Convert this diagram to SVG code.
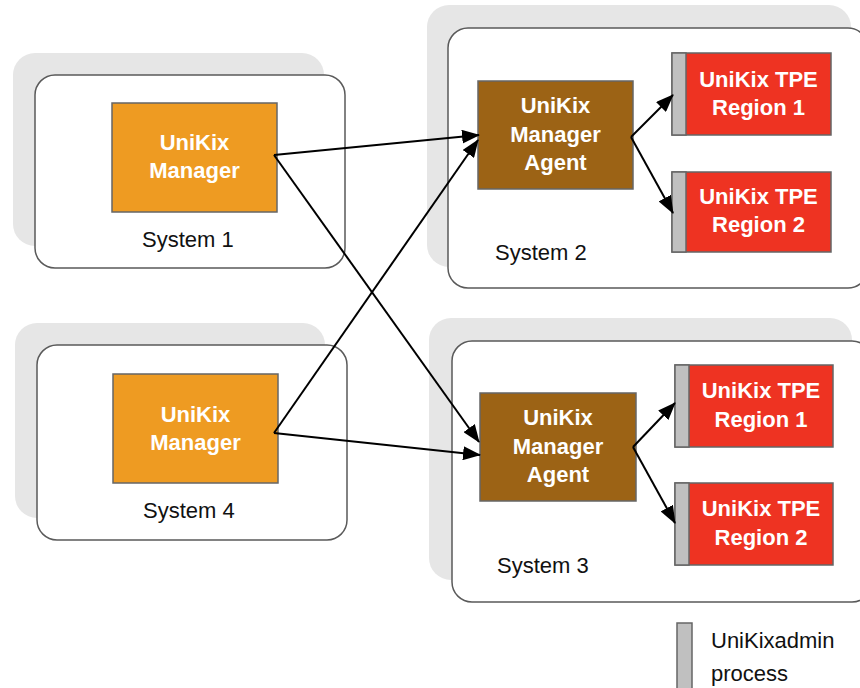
<svg xmlns="http://www.w3.org/2000/svg" width="860" height="688" viewBox="0 0 860 688">
<style>
.shadow{fill:#e6e6e6;stroke:none}
.sys{fill:#fff;stroke:#5a5a5a;stroke-width:1.5}
.mgr{fill:#ee9b22;stroke:#666;stroke-width:1.5}
.agent{fill:#9c6315;stroke:#666;stroke-width:1.5}
.reg{fill:#ee3322;stroke:#666;stroke-width:1.5}
.adm{fill:#c0c0c0;stroke:#666;stroke-width:1.5}
.wt{font-family:"Liberation Sans",Arial,sans-serif;font-weight:bold;font-size:22px;fill:#fff;text-anchor:middle}
.lbl{font-family:"Liberation Sans",Arial,sans-serif;font-size:22px;fill:#111}
.conn line{stroke:#000;stroke-width:2;marker-end:url(#ah)}
</style>
<defs>
<marker id="ah" markerUnits="userSpaceOnUse" markerWidth="18" markerHeight="14" viewBox="0 0 18 14" refX="17" refY="7" orient="auto">
<path d="M0,0 L18,7 L0,14 Z" fill="#000"/>
</marker>
</defs>
<rect class="shadow" x="13" y="53" width="311" height="193" rx="22"/>
<rect class="shadow" x="427" y="5" width="424" height="262" rx="22"/>
<rect class="shadow" x="429" y="318" width="423" height="262" rx="22"/>
<rect class="shadow" x="15" y="323" width="310" height="195" rx="22"/>
<g id="system1">
<rect class="sys" x="35" y="75" width="310" height="193" rx="20"/>
<text class="lbl" x="142" y="247">System 1</text>
</g>
<g id="manager1">
<rect class="mgr" x="112" y="103" width="165" height="109"/>
<text class="wt" x="194.5" y="150">UniKix</text>
<text class="wt" x="194.5" y="178">Manager</text>
</g>
<g id="system2">
<rect class="sys" x="448" y="28" width="420" height="260" rx="20"/>
<text class="lbl" x="495" y="260">System 2</text>
</g>
<g id="agent2">
<rect class="agent" x="478" y="81" width="155" height="108"/>
<text class="wt" x="555.5" y="113">UniKix</text>
<text class="wt" x="555.5" y="142">Manager</text>
<text class="wt" x="555.5" y="170">Agent</text>
</g>
<g id="region2-1">
<rect class="reg" x="672" y="53" width="159" height="82"/>
<rect class="adm" x="672" y="53" width="14" height="82"/>
<text class="wt" x="758.5" y="87">UniKix TPE</text>
<text class="wt" x="758.5" y="115">Region 1</text>
</g>
<g id="region2-2">
<rect class="reg" x="672" y="172" width="159" height="80"/>
<rect class="adm" x="672" y="172" width="14" height="80"/>
<text class="wt" x="758.5" y="204">UniKix TPE</text>
<text class="wt" x="758.5" y="232">Region 2</text>
</g>
<g id="system3">
<rect class="sys" x="452" y="341" width="420" height="261" rx="20"/>
<text class="lbl" x="497" y="573">System 3</text>
</g>
<g id="agent3">
<rect class="agent" x="480" y="393" width="156" height="108"/>
<text class="wt" x="558" y="425">UniKix</text>
<text class="wt" x="558" y="454">Manager</text>
<text class="wt" x="558" y="482">Agent</text>
</g>
<g id="region3-1">
<rect class="reg" x="675" y="365" width="158" height="82"/>
<rect class="adm" x="675" y="365" width="14" height="82"/>
<text class="wt" x="761" y="398">UniKix TPE</text>
<text class="wt" x="761" y="427">Region 1</text>
</g>
<g id="region3-2">
<rect class="reg" x="675" y="483" width="158" height="82"/>
<rect class="adm" x="675" y="483" width="14" height="82"/>
<text class="wt" x="761" y="516">UniKix TPE</text>
<text class="wt" x="761" y="545">Region 2</text>
</g>
<g id="system4">
<rect class="sys" x="37" y="345" width="310" height="195" rx="20"/>
<text class="lbl" x="143" y="518">System 4</text>
</g>
<g id="manager4">
<rect class="mgr" x="113" y="374" width="165" height="109"/>
<text class="wt" x="195.5" y="422">UniKix</text>
<text class="wt" x="195.5" y="450">Manager</text>
</g>
<g id="legend">
<rect class="adm" x="677" y="623" width="15" height="70"/>
<text class="lbl" x="711" y="648">UniKixadmin</text>
<text class="lbl" x="711" y="681">process</text>
</g>
<g class="conn" id="connectors">
<line x1="274" y1="155" x2="479" y2="135"/>
<line x1="274" y1="155" x2="479" y2="442"/>
<line x1="274" y1="433" x2="478" y2="140"/>
<line x1="274" y1="433" x2="480" y2="455"/>
<line x1="631" y1="137" x2="673" y2="95"/>
<line x1="631" y1="137" x2="673" y2="213"/>
<line x1="633" y1="447" x2="675" y2="403"/>
<line x1="633" y1="447" x2="675" y2="523"/>
</g>
</svg>
